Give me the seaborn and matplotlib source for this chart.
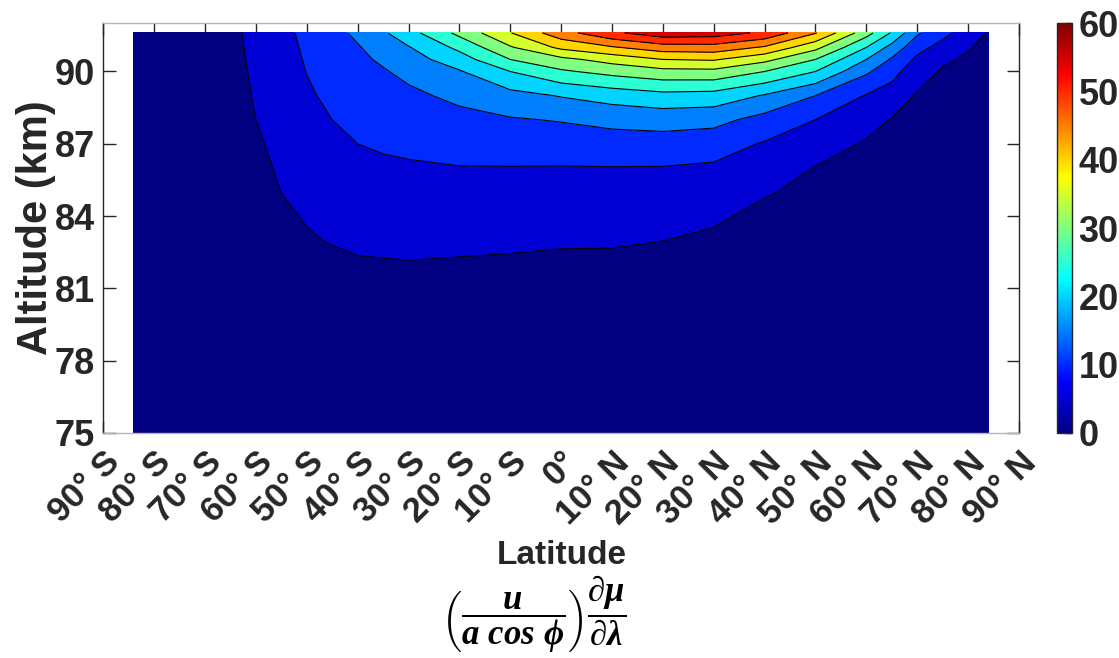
import numpy as np
import matplotlib
matplotlib.use("Agg")
import matplotlib.pyplot as plt
import seaborn as sns
from matplotlib.colors import ListedColormap, Normalize
from matplotlib.cm import ScalarMappable

# grid: altitude rows, one profile per latitude column
latitude = [-84, -80, -70, -65, -60, -55, -50, -45, -40, -35, -30, -20, -10,
            0, 10, 20, 30, 40, 50, 60, 65, 70, 75, 80, 84]
altitude = [75, 81, 82, 83, 84, 85, 86, 87, 88, 89, 90, 90.5, 91, 91.6]

at_84S = [0, 0.2, 0.3, 0.4, 0.5, 0.6, 0.7, 0.8, 0.9, 1.0, 1.1, 1.2, 1.3, 1.6]
at_80S = [0, 0.3, 0.4, 0.6, 0.7, 0.9, 1.0, 1.2, 1.3, 1.5, 1.6, 1.7, 1.8, 2.0]
at_70S = [0, 0.6, 0.9, 1.2, 1.5, 1.8, 2.1, 2.3, 2.5, 2.7, 2.8, 2.85, 2.9, 3.0]
at_65S = [0, 0.8, 1.2, 1.6, 2.0, 2.4, 2.8, 3.1, 3.4, 3.6, 3.75, 3.8, 3.85, 3.9]
at_60S = [0, 1.0, 1.6, 2.1, 2.7, 3.2, 3.8, 4.4, 5.0, 5.3, 5.6, 5.8, 6.0, 6.3]
at_55S = [0, 1.5, 2.4, 3.2, 4.1, 5.05, 5.6, 6.2, 6.7, 7.3, 7.8, 8.1, 8.4, 8.7]
at_50S = [0, 2.0, 3.2, 4.5, 5.4, 6.2, 7.0, 7.8, 8.6, 9.4, 10.1, 10.4, 10.7, 11.1]
at_45S = [0, 2.4, 3.9, 5.3, 6.2, 7.2, 8.1, 9.1, 10.0, 10.9, 11.9, 12.3, 12.8, 13.4]
at_40S = [0, 3.0, 4.6, 5.7, 6.8, 7.9, 8.9, 10.0, 11.2, 12.3, 13.5, 14.0, 14.6, 16.0]
at_35S = [0, 3.2, 4.7, 5.9, 7.0, 8.1, 9.3, 10.5, 11.8, 13.2, 14.6, 15.7, 17.3, 19.3]
at_30S = [0, 3.4, 4.8, 6.0, 7.2, 8.3, 9.5, 10.9, 12.5, 14.0, 16.2, 17.9, 19.7, 23.1]
at_20S = [0, 3.3, 4.6, 5.9, 7.25, 8.5, 9.85, 11.7, 13.6, 16.1, 19.6, 22.7, 26.2, 31.3]
at_10S = [0, 3.0, 4.4, 5.75, 7.1, 8.5, 9.85, 12.2, 14.6, 18.4, 25.0, 30.0, 34.5, 39.8]
at_0 = [0, 2.8, 4.1, 5.5, 6.9, 8.4, 9.8, 12.4, 15.3, 20.3, 29.3, 33.7, 41.1, 48.0]
at_10N = [0, 2.7, 4.0, 5.5, 6.9, 8.4, 9.85, 12.8, 16.4, 22.1, 31.6, 36.9, 44.5, 54.0]
at_20N = [0, 2.2, 3.5, 5.05, 6.6, 8.2, 9.8, 12.9, 17.0, 23.5, 33.5, 40.0, 47.7, 58.0]
at_30N = [0, 1.8, 3.0, 4.2, 5.7, 7.5, 9.3, 12.2, 16.5, 23.1, 33.7, 40.5, 48.0, 57.5]
at_40N = [0, 1.2, 2.0, 2.9, 3.8, 5.4, 7.5, 9.6, 13.3, 19.6, 30.0, 36.4, 44.4, 54.0]
at_50N = [0, 0.8, 1.4, 2.1, 2.9, 3.8, 4.8, 7.4, 10.0, 15.0, 25.0, 30.0, 36.4, 45.3]
at_60N = [0, 0.6, 1.0, 1.5, 2.0, 2.6, 3.4, 4.5, 6.9, 9.7, 15.8, 20.0, 25.0, 32.0]
at_65N = [0, 0.4, 0.7, 1.0, 1.4, 1.9, 2.6, 3.5, 4.7, 7.8, 11.7, 14.4, 18.3, 24.5]
at_70N = [0, 0.3, 0.5, 0.8, 1.1, 1.5, 2.0, 2.7, 3.5, 4.5, 7.1, 9.0, 11.7, 15.7]
at_75N = [0, 0.2, 0.4, 0.6, 0.9, 1.2, 1.6, 2.1, 2.8, 3.6, 4.5, 5.7, 8.2, 11.5]
at_80N = [0, 0.2, 0.3, 0.5, 0.7, 0.9, 1.2, 1.6, 2.1, 2.8, 3.7, 4.4, 5.3, 7.6]
at_84N = [0, 0.1, 0.2, 0.3, 0.5, 0.7, 0.9, 1.2, 1.6, 2.1, 2.8, 3.3, 3.9, 4.6]

profiles = [at_84S, at_80S, at_70S, at_65S, at_60S, at_55S, at_50S, at_45S,
            at_40S, at_35S, at_30S, at_20S, at_10S, at_0, at_10N, at_20N,
            at_30N, at_40N, at_50N, at_60N, at_65N, at_70N, at_75N, at_80N,
            at_84N]

levels = [0, 5, 10, 15, 20, 25, 30, 35, 40, 45, 50, 55, 60]
lat_ticks = [-90, -80, -70, -60, -50, -40, -30, -20, -10, 0,
             10, 20, 30, 40, 50, 60, 70, 80, 90]
lat_labels = ["90° S", "80° S", "70° S", "60° S", "50° S", "40° S", "30° S",
              "20° S", "10° S", "0°", "10° N", "20° N", "30° N", "40° N",
              "50° N", "60° N", "70° N", "80° N", "90° N"]
alt_ticks = [75, 78, 81, 84, 87, 90]
cbar_ticks = [0, 10, 20, 30, 40, 50, 60]


def matlab_jet(x):
    x = np.asarray(x, dtype=float)
    r = np.clip(np.minimum(4 * x - 1.5, -4 * x + 4.5), 0, 1)
    g = np.clip(np.minimum(4 * x - 0.5, -4 * x + 3.5), 0, 1)
    b = np.clip(np.minimum(4 * x + 0.5, -4 * x + 2.5), 0, 1)
    return np.stack([r, g, b], axis=-1)


sns.set_theme(style="ticks")
plt.rcParams["font.family"] = ["Liberation Sans", "DejaVu Sans"]
plt.rcParams["font.weight"] = "bold"
plt.rcParams["mathtext.fontset"] = "custom"
plt.rcParams["mathtext.it"] = "Liberation Serif:italic:bold"
plt.rcParams["mathtext.rm"] = "Liberation Serif:bold"
plt.rcParams["mathtext.bf"] = "Liberation Serif:bold"
dark = "#262626"

field = np.column_stack(profiles)
band_colors = matlab_jet(np.array(levels[:-1]) / 60.0)
jet = ListedColormap(matlab_jet(np.linspace(0, 1, 256)))

fig = plt.figure(figsize=(11.19, 6.58), dpi=100)
ax = fig.add_axes([0.0923, 0.342, 0.8183, 0.6226])
cax = fig.add_axes([0.9443, 0.342, 0.0134, 0.6226])

ax.contourf(latitude, altitude, field, levels=levels, colors=band_colors)
ax.contour(latitude, altitude, field, levels=levels[1:-1], colors="black",
           linewidths=0.8)

ax.set_xlim(-90, 90)
ax.set_ylim(75, 92)
ax.set_xticks(lat_ticks)
ax.set_xticklabels(lat_labels, rotation=45, ha="right", va="top",
                   rotation_mode="anchor")
ax.set_yticks(alt_ticks)
ax.tick_params(direction="in", length=9, width=1, top=True, right=True,
               labelsize=26, colors=dark, pad=6)
ax.tick_params(axis="x", labelsize=25, pad=9)
for side in ["left", "right"]:
    ax.spines[side].set_color(dark)
for side in ["top", "bottom"]:
    ax.spines[side].set_color("#b4b4b4")
for sp in ax.spines.values():
    sp.set_linewidth(1)
ax.set_facecolor("white")

cb = fig.colorbar(ScalarMappable(norm=Normalize(0, 60), cmap=jet), cax=cax)
cb.set_ticks(cbar_ticks)
cb.ax.tick_params(direction="in", length=5, width=1, labelsize=26,
                  colors=dark, pad=5)
cb.outline.set_edgecolor(dark)
cb.outline.set_linewidth(1)

fig.text(0.032, 0.6535, "Altitude (km)", rotation=90, ha="center",
         va="center", fontsize=30, fontweight="bold", color=dark)
fig.text(0.502, 0.1565, "Latitude", ha="center", va="center", fontsize=24,
         fontweight="bold", color=dark)
fig.text(0.477, 0.066,
         r"$\left(\dfrac{u}{a\ cos\ \phi}\right)\dfrac{\partial\mu}{\partial\lambda}$",
         ha="center", va="center", fontsize=25, color="black")

fig.savefig("out.png", dpi=100)
